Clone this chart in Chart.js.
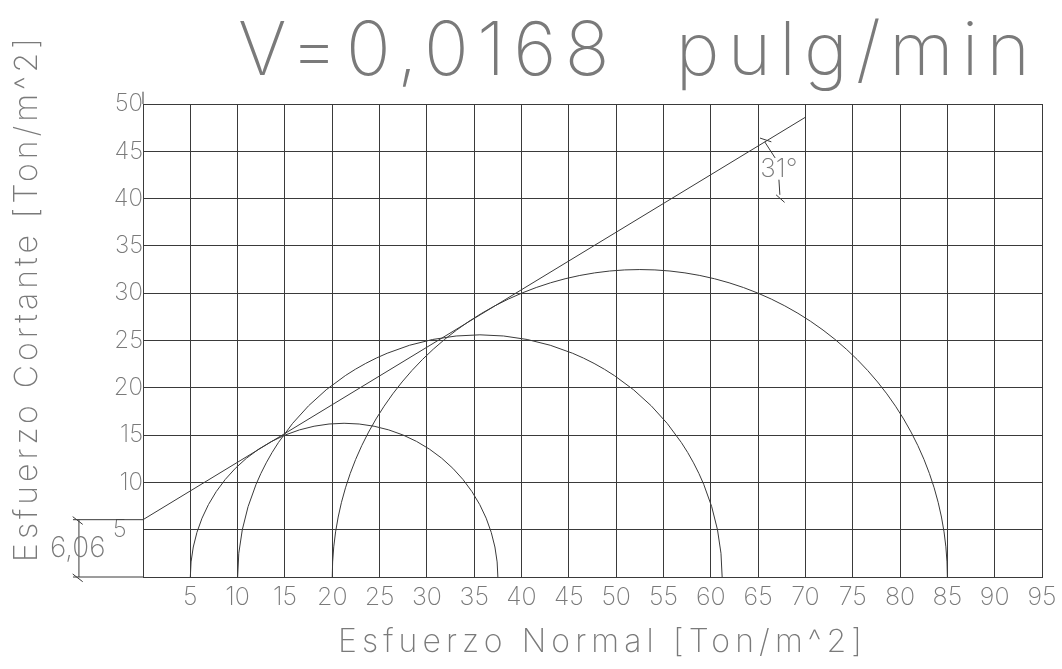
<!DOCTYPE html>
<html>
<head>
<meta charset="utf-8">
<title>V=0,0168 pulg/min</title>
<script src="https://cdn.jsdelivr.net/npm/chart.js@4.4.1/dist/chart.umd.min.js"></script>
<style>
  html, body { margin: 0; padding: 0; background: #fff; }
  #wrap { width: 1062px; height: 669px; }
</style>
</head>
<body>
<div id="wrap"><canvas id="mohr"></canvas></div>
<script>
// Ensayo triaxial: esfuerzos principales de cada probeta (Ton/m^2)
const sigma3 = [5, 10, 20];
const sigma1 = [37.5, 61.2, 85];

// Envolvente de falla: cohesion 6,06 y angulo 31°
const envX = [0, 70];
const envY = [6.06, 48.6];
const cohesion = 6.06;
const phiLabel = '31°';

const xTicks = [0, 5, 10, 15, 20, 25, 30, 35, 40, 45, 50, 55, 60, 65, 70, 75, 80, 85, 90, 95];
const yTicks = [0, 5, 10, 15, 20, 25, 30, 35, 40, 45, 50];

const titleText = 'V=0,0168  pulg/min';
const xTitle = 'Esfuerzo Normal [Ton/m^2]';
const yTitle = 'Esfuerzo Cortante [Ton/m^2]';

const FONT = '"Inter", "Lato", "DejaVu Sans", sans-serif';
const INK = '#3a3a3a';
const TEXT = '#7a7a7a';

// draws text stretched to a given length with letter spacing
function spacedText(ctx, str, x, y, width, size) {
  ctx.font = '200 ' + size + 'px ' + FONT;
  ctx.letterSpacing = '0px';
  const natural = ctx.measureText(str).width;
  const gap = (width - natural) / (str.length - 1);
  ctx.letterSpacing = gap + 'px';
  ctx.textAlign = 'left';
  ctx.fillText(str, x, y);
  ctx.letterSpacing = '0px';
}

const cadPlugin = {
  id: 'cad',
  afterDatasetsDraw(chart) {
    const ctx = chart.ctx;
    const xs = chart.scales.x, ys = chart.scales.y;
    const px = v => xs.getPixelForValue(v);
    const py = v => ys.getPixelForValue(v);
    const seg = (x1, y1, x2, y2) => {
      ctx.beginPath();
      ctx.moveTo(px(x1), py(y1));
      ctx.lineTo(px(x2), py(y2));
      ctx.stroke();
    };

    ctx.save();
    ctx.strokeStyle = INK;
    ctx.lineWidth = 1;

    // Circulos de Mohr (semicirculos superiores)
    const kx = px(1) - px(0), ky = py(0) - py(1);
    sigma3.forEach((s3, i) => {
      const c = (s3 + sigma1[i]) / 2, r = (sigma1[i] - s3) / 2;
      ctx.beginPath();
      ctx.ellipse(px(c), py(0), r * kx, r * ky, 0, Math.PI, 2 * Math.PI);
      ctx.stroke();
    });

    // eje vertical prolongado sobre la grilla
    seg(0, 50, 0, 51.3);

    // cota de la cohesion
    seg(-7.4, cohesion, 0, cohesion);
    seg(-7.4, 0, 0, 0);
    seg(-6.77, 0, -6.77, cohesion);
    seg(-7.43, cohesion + 0.32, -6.37, cohesion - 0.5);
    seg(-7.43, 0.32, -6.37, -0.5);

    // cota del angulo
    seg(65.2, 46.4, 66.4, 46.0);
    seg(65.7, 46.0, 66.8, 44.3);
    seg(67.2, 42.0, 67.3, 40.4);
    seg(66.9, 40.4, 67.8, 39.6);

    ctx.fillStyle = TEXT;
    ctx.textBaseline = 'alphabetic';
    ctx.font = '200 28px ' + FONT;
    ctx.textAlign = 'center';
    ctx.fillText(cohesion.toFixed(2).replace('.', ','), px(-6.9), py(2.1));
    ctx.font = '200 26px ' + FONT;
    ctx.fillText(phiLabel, px(67.2), py(42.3));
    ctx.restore();
  },
  afterDraw(chart) {
    const ctx = chart.ctx;
    ctx.save();
    ctx.fillStyle = TEXT;
    ctx.textBaseline = 'alphabetic';
    spacedText(ctx, titleText, 238, 75, 792, 74);
    spacedText(ctx, xTitle, 338, 652, 524, 32);
    ctx.translate(37, 562);
    ctx.rotate(-Math.PI / 2);
    spacedText(ctx, yTitle, 0, 0, 524, 32);
    ctx.restore();
  }
};

new Chart(document.getElementById('mohr'), {
  type: 'scatter',
  data: {
    datasets: [{
      label: 'Envolvente',
      data: envX.map((x, i) => ({ x: x, y: envY[i] })),
      showLine: true,
      borderColor: INK,
      borderWidth: 1,
      pointRadius: 0
    }]
  },
  options: {
    responsive: true,
    maintainAspectRatio: false,
    animation: false,
    layout: { padding: { top: 104, right: 20, left: 0, bottom: 0 } },
    plugins: {
      legend: { display: false },
      tooltip: { enabled: false }
    },
    scales: {
      x: {
        type: 'linear',
        min: 0,
        max: 95,
        afterBuildTicks: s => { s.ticks = xTicks.map(v => ({ value: v })); },
        afterFit: s => { s.height = 92; },
        grid: { color: INK, lineWidth: 1, drawTicks: false },
        border: { color: INK },
        ticks: {
          padding: 5,
          color: TEXT,
          font: { family: FONT, size: 25, weight: 200 },
          maxRotation: 0,
          autoSkip: false,
          callback: v => v === 0 ? '' : String(v)
        }
      },
      y: {
        type: 'linear',
        min: 0,
        max: 50,
        afterBuildTicks: s => { s.ticks = yTicks.map(v => ({ value: v })); },
        afterFit: s => { s.width = 143; },
        grid: { color: INK, lineWidth: 1, drawTicks: false },
        border: { color: INK },
        ticks: {
          padding: 0,
          color: TEXT,
          font: { family: FONT, size: 24, weight: 200 },
          autoSkip: false,
          callback: v => v === 0 ? '' : (v === 5 ? '5\u2002\u2009' : String(v))
        }
      }
    }
  },
  plugins: [cadPlugin]
});
</script>
</body>
</html>
